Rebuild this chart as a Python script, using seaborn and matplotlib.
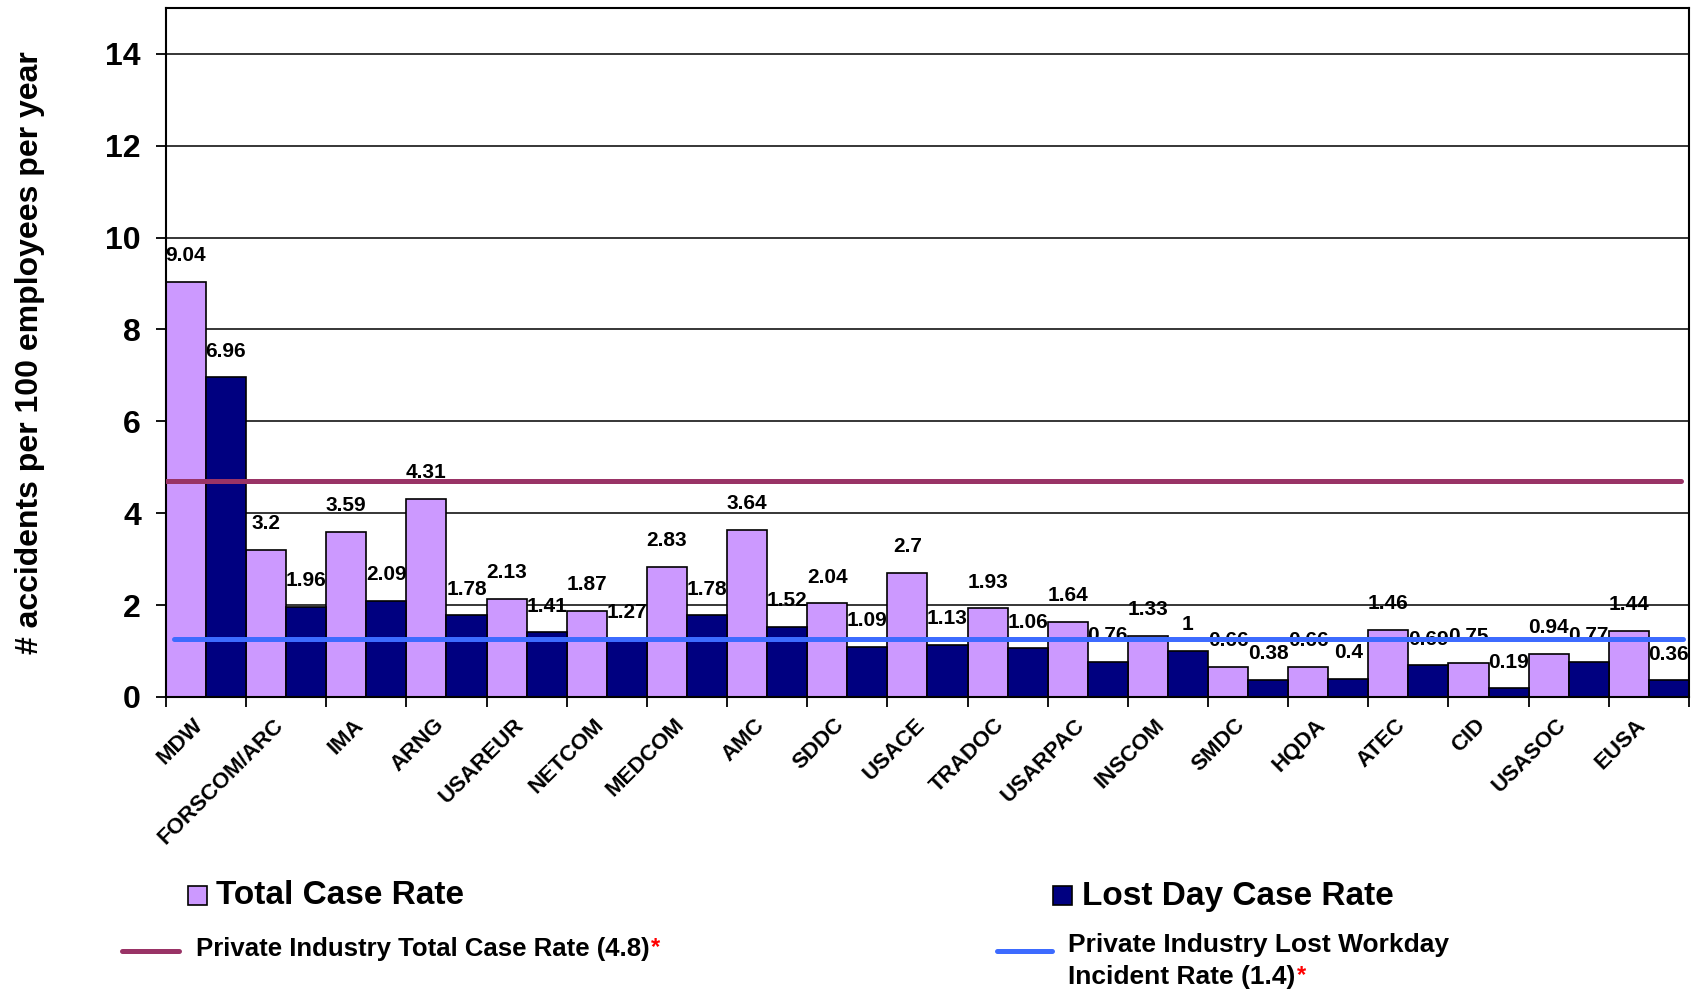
import numpy as np
import pandas as pd
import seaborn as sns
import matplotlib.pyplot as plt
import matplotlib.transforms as mtrans
from matplotlib.patches import Rectangle
from matplotlib.lines import Line2D

# data
commands = ["MDW", "FORSCOM/ARC", "IMA", "ARNG", "USAREUR", "NETCOM", "MEDCOM", "AMC",
            "SDDC", "USACE", "TRADOC", "USARPAC", "INSCOM", "SMDC", "HQDA", "ATEC",
            "CID", "USASOC", "EUSA"]
total_case = [9.04, 3.2, 3.59, 4.31, 2.13, 1.87, 2.83, 3.64, 2.04, 2.7, 1.93, 1.64,
              1.33, 0.66, 0.66, 1.46, 0.75, 0.94, 1.44]
lost_day = [6.96, 1.96, 2.09, 1.78, 1.41, 1.27, 1.78, 1.52, 1.09, 1.13, 1.06, 0.76,
            1, 0.38, 0.4, 0.69, 0.19, 0.77, 0.36]
series_names = ["Total Case Rate", "Lost Day Case Rate"]

# private industry reference lines (as drawn on the chart)
industry_total = 4.7
industry_lost = 1.27

purple = "#CC99FF"
navy = "#000080"
maroon = "#993366"
blue = "#3D6BFF"

df = pd.DataFrame({
    "command": commands * 2,
    "rate": total_case + lost_day,
    "series": [series_names[0]] * len(commands) + [series_names[1]] * len(commands),
})

sns.set_theme(style="white")
plt.rcParams["font.family"] = ["Liberation Sans", "DejaVu Sans"]
plt.rcParams["font.weight"] = "bold"
plt.rcParams["text.color"] = "black"
plt.rcParams["axes.labelcolor"] = "black"
plt.rcParams["xtick.color"] = "black"
plt.rcParams["ytick.color"] = "black"

fig = plt.figure(figsize=(17, 9.91), dpi=100)
ax = fig.add_axes([0.0976, 0.2967, 0.8959, 0.6953])

sns.barplot(data=df, x="command", y="rate", hue="series", palette=[purple, navy],
            saturation=1, width=1.0, gap=0, edgecolor="black", linewidth=1.2,
            errorbar=None, legend=False, ax=ax, zorder=2)

# value labels above bars
for cont in ax.containers:
    labels = ["%g" % b.get_height() for b in cont]
    ax.bar_label(cont, labels=labels, padding=12, fontsize=15, fontweight="bold",
                 color="black", zorder=3)

# reference lines
ax.axhline(industry_total, xmin=0, xmax=0.995, color=maroon, lw=3.6, zorder=10)
ax.axhline(industry_lost, xmin=0.005, xmax=0.996, color=blue, lw=3.6, zorder=10)

ax.set_ylim(0, 15)
ax.set_xlim(-0.5, len(commands) - 0.5)
ax.set_yticks(np.arange(0, 15, 2))
ax.yaxis.grid(True, color="black", lw=1.1, zorder=0)
ax.set_axisbelow(True)

for s in ax.spines.values():
    s.set_color("black")
    s.set_linewidth(1.5)

ax.tick_params(axis="y", left=True, length=7, width=1.3, color="black", pad=11,
               labelsize=23, labelcolor="black")
for t in ax.get_yticklabels():
    t.set_fontweight("bold")

ax.set_xticks(np.arange(-0.5, len(commands), 1), minor=True)
ax.tick_params(axis="x", which="minor", bottom=True, length=7, width=1.3, color="black")
ax.tick_params(axis="x", which="major", bottom=False, length=0, pad=18, labelcolor="black")
ax.set_xticks(np.arange(len(commands)))
ax.set_xticklabels(commands, rotation=45, ha="right", rotation_mode="anchor",
                   fontsize=16, fontweight="bold", va="center")
shift = mtrans.ScaledTranslation(-6 / 100, 0, fig.dpi_scale_trans)
for t in ax.get_xticklabels():
    t.set_transform(t.get_transform() + shift)
ax.set_xlabel("")

ax.set_ylabel("# accidents per 100 employees per year", fontsize=23, fontweight="bold",
              color="black")
ax.yaxis.set_label_coords(-0.0795, 0.5)

# legend, drawn by hand in figure coordinates
W, H = 1700.0, 991.0
fig.add_artist(Rectangle((188 / W, 1 - 905 / H), 19 / W, 19 / H, transform=fig.transFigure,
                         facecolor=purple, edgecolor="black", lw=1.2))
fig.text(216 / W, 1 - 896 / H, series_names[0], fontsize=24, fontweight="bold", va="center")
fig.add_artist(Rectangle((1053 / W, 1 - 905 / H), 19 / W, 19 / H, transform=fig.transFigure,
                         facecolor=navy, edgecolor="black", lw=1.2))
fig.text(1082 / W, 1 - 896 / H, series_names[1], fontsize=24, fontweight="bold", va="center")

fig.add_artist(Line2D([122 / W, 179 / W], [1 - 951 / H, 1 - 951 / H], transform=fig.transFigure,
                      color=maroon, lw=3.6))
t1 = fig.text(196 / W, 1 - 949 / H, "Private Industry Total Case Rate (4.8)", fontsize=18.5,
              fontweight="bold", va="center")
ax.annotate("*", xy=(1, 1), xycoords=t1, xytext=(1, 1), textcoords="offset points",
            va="top", ha="left", color="red", fontsize=17, fontweight="bold",
            annotation_clip=False)

fig.add_artist(Line2D([997 / W, 1052 / W], [1 - 951 / H, 1 - 951 / H], transform=fig.transFigure,
                      color=blue, lw=3.6))
fig.text(1068 / W, 1 - 945 / H, "Private Industry Lost Workday", fontsize=19,
         fontweight="bold", va="center")
t2 = fig.text(1068 / W, 1 - 977 / H, "Incident Rate (1.4)", fontsize=19,
              fontweight="bold", va="center")
ax.annotate("*", xy=(1, 1), xycoords=t2, xytext=(1, 1), textcoords="offset points",
            va="top", ha="left", color="red", fontsize=17, fontweight="bold",
            annotation_clip=False)

fig.savefig("out.png", dpi=100)
